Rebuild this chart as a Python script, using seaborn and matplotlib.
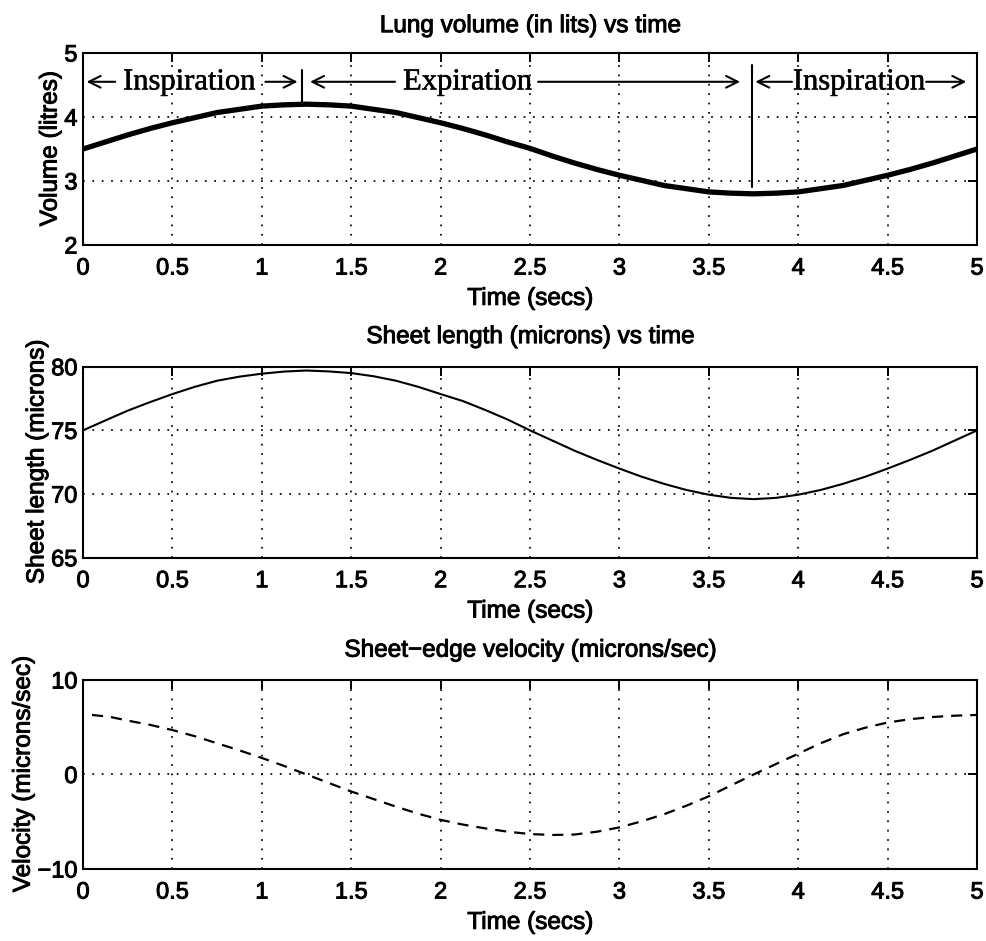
import matplotlib
matplotlib.use("Agg")
import matplotlib.pyplot as plt
import matplotlib.patheffects as pe
import seaborn as sns
import pandas as pd

# ---------------- data ----------------
time_s = [0.0, 0.125, 0.25, 0.375, 0.5, 0.625, 0.75, 0.875, 1.0, 1.125, 1.25,
          1.375, 1.5, 1.625, 1.75, 1.875, 2.0, 2.125, 2.25, 2.375, 2.5,
          2.625, 2.75, 2.875, 3.0, 3.125, 3.25, 3.375, 3.5, 3.625, 3.75,
          3.875, 4.0, 4.125, 4.25, 4.375, 4.5, 4.625, 4.75, 4.875, 5.0]
lung_volume_l = [3.50, 3.61, 3.72, 3.82, 3.91, 3.99, 4.07, 4.12, 4.17, 4.19, 4.20,
                 4.19, 4.17, 4.12, 4.07, 3.99, 3.91, 3.82, 3.72, 3.61, 3.51,
                 3.39, 3.28, 3.18, 3.09, 3.01, 2.93, 2.88, 2.83, 2.81, 2.80,
                 2.81, 2.83, 2.88, 2.93, 3.01, 3.09, 3.18, 3.28, 3.39, 3.50]
sheet_length_um = [75.0, 75.78, 76.55, 77.22, 77.85, 78.42, 78.9, 79.22, 79.45, 79.62, 79.7,
                   79.63, 79.5, 79.25, 78.9, 78.42, 77.85, 77.3, 76.6, 75.85, 75.0,
                   74.2, 73.4, 72.68, 72.0, 71.36, 70.8, 70.32, 69.95, 69.7, 69.6,
                   69.7, 69.95, 70.32, 70.8, 71.36, 72.0, 72.68, 73.4, 74.2, 75.0]
velocity_time_s = [0.05, 0.15, 0.25, 0.375, 0.5, 0.625, 0.75, 0.875, 1.0, 1.125, 1.25,
                   1.375, 1.5, 1.625, 1.75, 1.875, 2.0, 2.125, 2.25, 2.375, 2.5,
                   2.625, 2.75, 2.875, 3.0, 3.125, 3.25, 3.375, 3.5, 3.625, 3.75,
                   3.875, 4.0, 4.125, 4.25, 4.375, 4.5, 4.625, 4.75, 4.875, 5.0]
velocity_um_s = [6.3, 6.1, 5.7, 5.25, 4.7, 4.05, 3.3, 2.55, 1.75, 0.9, 0.0,
                 -0.9, -1.8, -2.6, -3.4, -4.15, -4.8, -5.3, -5.7, -6.05, -6.3,
                 -6.4, -6.35, -6.05, -5.6, -4.95, -4.2, -3.3, -2.3, -1.15, 0.0,
                 1.1, 2.2, 3.3, 4.25, 4.95, 5.5, 5.85, 6.08, 6.22, 6.3]

x_ticks = [0, 0.5, 1, 1.5, 2, 2.5, 3, 3.5, 4, 4.5, 5]
x_tick_labels = ["0", "0.5", "1", "1.5", "2", "2.5", "3", "3.5", "4", "4.5", "5"]
vol_ticks = [2, 3, 4, 5]
len_ticks = [65, 70, 75, 80]
vel_ticks = [-10, 0, 10]
vel_tick_labels = ["\u221210", "0", "10"]

titles = ["Lung volume (in lits) vs time",
          "Sheet length (microns) vs time",
          "Sheet\u2212edge velocity (microns/sec)"]
ylabels = ["Volume (litres)", "Sheet length (microns)", "Velocity (microns/sec)"]
xlabel = "Time (secs)"

# phase annotations (top panel)
phase_labels = ["Inspiration", "Expiration", "Inspiration"]
phase_label_x = [0.224, 1.79, 3.97]
phase_label_y = 4.43
arrow_y = 4.55
arrows = [(0.18, 0.02), (1.02, 1.20), (1.745, 1.27), (2.545, 3.675), (3.965, 3.76), (4.715, 4.94)]
marker_x = [1.225, 3.74]
marker_y0 = [4.23, 2.91]
marker_y1 = [4.73, 4.81]

# ---------------- style ----------------
sns.set_theme(style="white")
plt.rcParams["font.family"] = ["Liberation Sans", "DejaVu Sans"]
plt.rcParams["axes.unicode_minus"] = True

heavy = [pe.withStroke(linewidth=0.7, foreground="black")]
heavy_serif = [pe.withStroke(linewidth=0.35, foreground="black")]

fig = plt.figure(figsize=(9.86, 9.41), dpi=100)
left, width = 0.0842, 0.9067
positions = [(left, 0.7396, width, 0.2041),
             (left, 0.4073, width, 0.2030),
             (left, 0.0765, width, 0.2009)]
axes = [fig.add_axes(p) for p in positions]

df_top = pd.DataFrame({"t": time_s, "v": lung_volume_l})
df_mid = pd.DataFrame({"t": time_s, "v": sheet_length_um})
df_bot = pd.DataFrame({"t": velocity_time_s, "v": velocity_um_s})

sns.lineplot(data=df_top, x="t", y="v", ax=axes[0], color="black", linewidth=3.8, sort=False)
sns.lineplot(data=df_mid, x="t", y="v", ax=axes[1], color="black", linewidth=1.5, sort=False)
sns.lineplot(data=df_bot, x="t", y="v", ax=axes[2], color="black", linewidth=1.6, sort=False,
             linestyle=(0, (5.0, 3.6)))

ylims = [(2, 5), (65, 80), (-10, 10)]
yticks = [vol_ticks, len_ticks, vel_ticks]
ytlabels = [[str(v) for v in vol_ticks], [str(v) for v in len_ticks], vel_tick_labels]
title_pads = [15.0, 17.0, 16.8]

for ax, yl, yt, ytl, title, ylab, tp in zip(axes, ylims, yticks, ytlabels, titles, ylabels, title_pads):
    ax.set_xlim(0, 5)
    ax.set_ylim(*yl)
    ax.set_xticks(x_ticks)
    ax.set_xticklabels(x_tick_labels)
    ax.set_yticks(yt)
    ax.set_yticklabels(ytl)
    ax.tick_params(direction="in", top=True, right=True, length=6.5, width=1.4,
                   labelsize=17, colors="black")
    ax.tick_params(axis="x", pad=9)
    ax.tick_params(axis="y", pad=4)
    ax.grid(True, color="black", linestyle=(0, (1, 4.4)), linewidth=1.25)
    for s in ax.spines.values():
        s.set_linewidth(1.5)
        s.set_color("black")
        s.set_visible(True)
    t = ax.set_title(title, fontsize=17.5, pad=tp, color="black")
    t.set_path_effects(heavy)
    xl = ax.set_xlabel(xlabel, fontsize=17.5, labelpad=6, color="black")
    xl.set_path_effects(heavy)
    yl_ = ax.set_ylabel(ylab, fontsize=17.5, labelpad=2, color="black")
    yl_.set_path_effects(heavy)
    for lab in ax.get_xticklabels() + ax.get_yticklabels():
        lab.set_path_effects(heavy)

ax0 = axes[0]
for lbl, lx in zip(phase_labels, phase_label_x):
    txt = ax0.text(lx, phase_label_y, lbl, fontsize=22, family=["Liberation Serif", "DejaVu Serif"],
                   ha="left", va="baseline", color="black")
    txt.set_path_effects(heavy_serif)
for tail, tip in arrows:
    ax0.annotate("", xy=(tip, arrow_y), xytext=(tail, arrow_y),
                 arrowprops=dict(arrowstyle="->", lw=1.5, color="black",
                                 mutation_scale=21, shrinkA=0, shrinkB=0))
for mx, y0, y1 in zip(marker_x, marker_y0, marker_y1):
    ax0.plot([mx, mx], [y0, y1], color="black", linewidth=1.5)

fig.savefig("out.png", dpi=100)
